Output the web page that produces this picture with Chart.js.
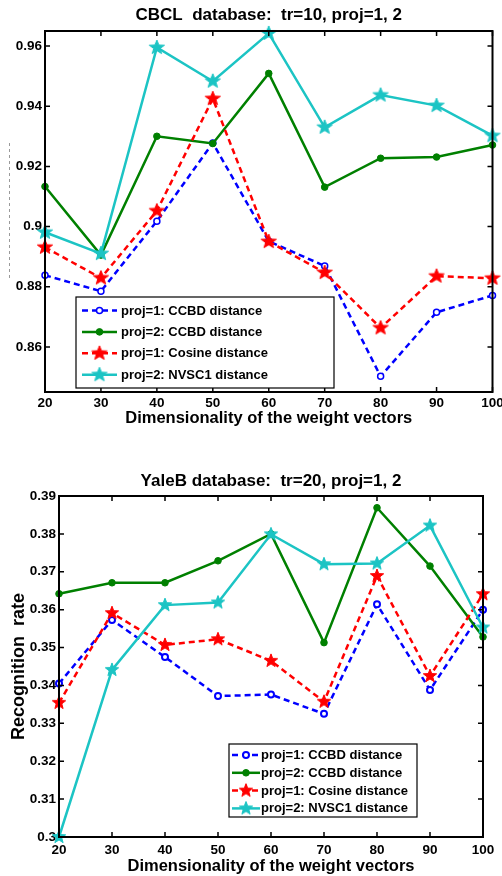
<!DOCTYPE html>
<html>
<head>
<meta charset="utf-8">
<script src="https://cdn.jsdelivr.net/npm/chart.js@4.4.1/dist/chart.umd.min.js"></script>
<style>
  html, body { margin: 0; padding: 0; background: #fff; }
  #wrap { position: relative; width: 502px; height: 876px; overflow: hidden; }
  canvas { position: absolute; left: 0; }
  #cbcl { top: 0; }
  #yale { top: 440px; }
</style>
</head>
<body>
<div id="wrap">
  <canvas id="cbcl" width="502" height="440"></canvas>
  <canvas id="yale" width="502" height="436"></canvas>
</div>
<script>
// ----------- DATA ------------
const dims = [20, 30, 40, 50, 60, 70, 80, 90, 100];
const seriesNames = [
  "proj=1: CCBD distance",
  "proj=2: CCBD distance",
  "proj=1: Cosine distance",
  "proj=2: NVSC1 distance",
];

// CBCL, tr=10
const cbclCcbd1 = [0.8838, 0.8785, 0.9018, 0.9278, 0.8951, 0.8869, 0.8502, 0.8715, 0.8771];
const cbclCcbd2 = [0.9133, 0.8905, 0.93, 0.9276, 0.9509, 0.9131, 0.9227, 0.9231, 0.9271];
const cbclCos1 = [0.8931, 0.8829, 0.9052, 0.9425, 0.895, 0.8847, 0.8663, 0.8835, 0.8828];
const cbclNvsc2 = [0.8981, 0.891, 0.9595, 0.9483, 0.9642, 0.933, 0.9437, 0.9402, 0.9302];

// YaleB, tr=20
const yaleCcbd1 = [0.3405, 0.3573, 0.3475, 0.3372, 0.3376, 0.3325, 0.3614, 0.3388, 0.36];
const yaleCcbd2 = [0.3642, 0.3671, 0.3671, 0.3729, 0.38, 0.3513, 0.3869, 0.3715, 0.3528];
const yaleCos1 = [0.3354, 0.3591, 0.3507, 0.3522, 0.3465, 0.3357, 0.3689, 0.3425, 0.3641];
const yaleNvsc2 = [0.3, 0.3441, 0.3612, 0.3619, 0.3799, 0.372, 0.3722, 0.3822, 0.3553];

const xTicks = [20, 30, 40, 50, 60, 70, 80, 90, 100];
const cbclYTicks = [0.86, 0.88, 0.9, 0.92, 0.94, 0.96];
const yaleYTicks = [0.3, 0.31, 0.32, 0.33, 0.34, 0.35, 0.36, 0.37, 0.38, 0.39];

// ----------- STYLE ------------
const FONT = "'Liberation Sans', Arial, Helvetica, sans-serif";
const BLUE = "#0000ff";
const GREEN = "#008000";
const RED = "#ff0000";
const CYAN = "#1cc4c4";

Chart.defaults.font.family = FONT;
Chart.defaults.color = "#000";

// filled 5-point star like matlab's pentagram marker
function makeStar(color, rx, ry) {
  const c = document.createElement("canvas");
  c.width = Math.ceil(rx * 2 + 2);
  c.height = Math.ceil(ry * 2 + 2);
  const g = c.getContext("2d");
  const cx = c.width / 2;
  const cy = c.height / 2;
  g.beginPath();
  for (let i = 0; i < 10; i++) {
    const r = i % 2 === 0 ? 1 : 0.42;
    const a = -Math.PI / 2 + (i * Math.PI) / 5;
    const px = cx + Math.cos(a) * r * rx;
    const py = cy + Math.sin(a) * r * ry;
    if (i === 0) g.moveTo(px, py);
    else g.lineTo(px, py);
  }
  g.closePath();
  g.fillStyle = color;
  g.fill();
  g.strokeStyle = color;
  g.lineWidth = 1;
  g.stroke();
  return c;
}

function lineSet(label, values, style) {
  return Object.assign(
    {
      label: label,
      data: dims.map((d, i) => ({ x: d, y: values[i] })),
      fill: false,
      tension: 0,
      clip: false,
      borderWidth: 2.5,
    },
    style
  );
}

function fmt(v) {
  return String(Number(v.toFixed(3)));
}

// box + inward ticks, matlab style
const framePlugin = {
  id: "frame",
  afterDatasetsDraw(chart, args, opts) {
    const { ctx, chartArea: a } = chart;
    const x = chart.scales.x;
    const y = chart.scales.y;
    ctx.save();
    ctx.strokeStyle = "#000";
    ctx.lineWidth = 1.5;
    ctx.beginPath();
    x.ticks.forEach((t) => {
      const px = x.getPixelForValue(t.value);
      ctx.moveTo(px, a.bottom);
      ctx.lineTo(px, a.bottom - 5);
      ctx.moveTo(px, a.top);
      ctx.lineTo(px, a.top + 5);
    });
    y.ticks.forEach((t) => {
      const py = y.getPixelForValue(t.value);
      ctx.moveTo(a.left, py);
      ctx.lineTo(a.left + 5, py);
      ctx.moveTo(a.right, py);
      ctx.lineTo(a.right - 5, py);
    });
    ctx.stroke();
    ctx.lineWidth = 2;
    ctx.strokeRect(a.left, a.top, a.right - a.left, a.bottom - a.top);

    // leftover dotted guide at the left of the first figure
    if (opts.ghost) {
      ctx.strokeStyle = "#9a9a9a";
      ctx.lineWidth = 1;
      ctx.setLineDash([3, 3]);
      ctx.beginPath();
      ctx.moveTo(opts.ghost.x, opts.ghost.y0);
      ctx.lineTo(opts.ghost.x, opts.ghost.y1);
      ctx.stroke();
    }
    ctx.restore();
  },
};

// legend box drawn inside the axes
const boxLegend = {
  id: "boxLegend",
  afterDraw(chart, args, o) {
    const ctx = chart.ctx;
    ctx.save();
    ctx.fillStyle = "#fff";
    ctx.fillRect(o.left, o.top, o.width, o.height);
    ctx.strokeStyle = "#000";
    ctx.lineWidth = 1.2;
    ctx.strokeRect(o.left, o.top, o.width, o.height);
    ctx.font = "bold 13px " + FONT;
    ctx.textBaseline = "middle";
    chart.data.datasets.forEach((ds, i) => {
      const ry = o.top + o.firstRow + i * o.rowGap;
      const x0 = o.left + o.sampleFrom;
      const x1 = o.left + o.sampleTo;
      ctx.strokeStyle = ds.borderColor;
      ctx.lineWidth = ds.borderWidth;
      ctx.setLineDash(ds.borderDash || []);
      ctx.beginPath();
      ctx.moveTo(x0, ry);
      ctx.lineTo(x1, ry);
      ctx.stroke();
      ctx.setLineDash([]);
      const mx = (x0 + x1) / 2;
      if (ds.pointStyle instanceof HTMLCanvasElement) {
        ctx.drawImage(ds.pointStyle, mx - ds.pointStyle.width / 2, ry - ds.pointStyle.height / 2);
      } else {
        ctx.beginPath();
        ctx.arc(mx, ry, ds.pointRadius, 0, Math.PI * 2);
        ctx.fillStyle = ds.pointBackgroundColor;
        ctx.fill();
        ctx.lineWidth = ds.pointBorderWidth;
        ctx.strokeStyle = ds.pointBorderColor;
        ctx.stroke();
      }
      ctx.fillStyle = "#000";
      ctx.fillText(ds.label, o.left + o.textX, ry + 0.5);
    });
    ctx.restore();
  },
};

function buildChart(canvasId, cfg) {
  const ctx = document.getElementById(canvasId).getContext("2d");
  return new Chart(ctx, {
    type: "line",
    data: { datasets: cfg.datasets },
    plugins: [framePlugin, boxLegend],
    options: {
      responsive: false,
      maintainAspectRatio: false,
      devicePixelRatio: 1,
      animation: false,
      events: [],
      layout: { padding: { left: 0, right: cfg.padRight, top: 0, bottom: 0 } },
      plugins: {
        legend: { display: false },
        tooltip: { enabled: false },
        title: {
          display: true,
          text: cfg.title,
          fullSize: false,
          color: "#000",
          font: { size: 17, weight: "bold" },
          padding: cfg.titlePad,
        },
        frame: { ghost: cfg.ghost },
        boxLegend: cfg.legend,
      },
      scales: {
        x: {
          type: "linear",
          min: 20,
          max: 100,
          afterBuildTicks: (axis) => {
            axis.ticks = xTicks.map((v) => ({ value: v }));
          },
          afterFit: (scale) => {
            scale.height = cfg.xHeight;
            scale.paddingLeft = 0;
            scale.paddingRight = 0;
          },
          grid: { display: false, drawTicks: false },
          border: { display: false },
          ticks: {
            padding: cfg.xTickPad,
            maxRotation: 0,
            autoSkip: false,
            color: "#000",
            font: { size: 13.5, weight: "bold" },
          },
          title: {
            display: true,
            text: "Dimensionality of the weight vectors",
            color: "#000",
            font: { size: 16.5, weight: "bold" },
            padding: { top: 0, bottom: cfg.xTitlePad },
          },
        },
        y: {
          type: "linear",
          min: cfg.yMin,
          max: cfg.yMax,
          afterBuildTicks: (axis) => {
            axis.ticks = cfg.yTicks.map((v) => ({ value: v }));
          },
          afterFit: (scale) => {
            scale.width = cfg.yWidth;
            scale.paddingTop = 0;
            scale.paddingBottom = 0;
          },
          grid: { display: false, drawTicks: false },
          border: { display: false },
          ticks: {
            padding: 3,
            autoSkip: false,
            color: "#000",
            font: { size: 13.5, weight: "bold" },
            callback: (v) => fmt(v),
          },
          title: {
            display: !!cfg.yTitle,
            text: cfg.yTitle || "",
            color: "#000",
            font: { size: 18, weight: "bold" },
            padding: { top: 8, bottom: 0 },
          },
        },
      },
    },
  });
}

// ----------- CBCL ------------
const starRedTop = makeStar(RED, 8, 7.5);
const starCyanTop = makeStar(CYAN, 8, 7.5);

buildChart("cbcl", {
  title: "CBCL  database:  tr=10, proj=1, 2",
  titlePad: { top: 4.8, bottom: 5.8 },
  padRight: 9,
  xHeight: 48,
  xTickPad: 3.5,
  xTitlePad: 12,
  yWidth: 45,
  yMin: 0.845,
  yMax: 0.965,
  yTicks: cbclYTicks,
  ghost: { x: 9.5, y0: 143, y1: 281 },
  legend: { left: 76, top: 297, width: 258, height: 91, firstRow: 13.5, rowGap: 21.4, sampleFrom: 6, sampleTo: 41, textX: 45 },
  datasets: [
    lineSet(seriesNames[0], cbclCcbd1, {
      borderColor: BLUE, borderDash: [6, 4], pointStyle: "circle", pointRadius: 3,
      pointBorderWidth: 1.5, pointBackgroundColor: "#fff", pointBorderColor: BLUE, order: 3,
    }),
    lineSet(seriesNames[1], cbclCcbd2, {
      borderColor: GREEN, pointStyle: "circle", pointRadius: 3.3,
      pointBorderWidth: 1, pointBackgroundColor: GREEN, pointBorderColor: GREEN, order: 2,
    }),
    lineSet(seriesNames[2], cbclCos1, {
      borderColor: RED, borderDash: [6, 4], pointStyle: starRedTop, pointRadius: 7, order: 1,
    }),
    lineSet(seriesNames[3], cbclNvsc2, {
      borderColor: CYAN, pointStyle: starCyanTop, pointRadius: 7, order: 0,
    }),
  ],
});

// ----------- YALE B ------------
const starRedBot = makeStar(RED, 7, 7);
const starCyanBot = makeStar(CYAN, 7, 7);

buildChart("yale", {
  title: "YaleB database:  tr=20, proj=1, 2",
  titlePad: { top: 30.8, bottom: 4.8 },
  padRight: 19,
  xHeight: 39,
  xTickPad: 5.5,
  xTitlePad: 0,
  yWidth: 59,
  yMin: 0.3,
  yMax: 0.39,
  yTicks: yaleYTicks,
  yTitle: "Recognition  rate",
  legend: { left: 229, top: 304, width: 188, height: 73, firstRow: 11, rowGap: 17.8, sampleFrom: 3, sampleTo: 31, textX: 32 },
  datasets: [
    lineSet(seriesNames[0], yaleCcbd1, {
      borderColor: BLUE, borderDash: [6, 4], pointStyle: "circle", pointRadius: 3,
      pointBorderWidth: 2, pointBackgroundColor: "#fff", pointBorderColor: BLUE, order: 3,
    }),
    lineSet(seriesNames[1], yaleCcbd2, {
      borderColor: GREEN, pointStyle: "circle", pointRadius: 3.3,
      pointBorderWidth: 1, pointBackgroundColor: GREEN, pointBorderColor: GREEN, order: 2,
    }),
    lineSet(seriesNames[2], yaleCos1, {
      borderColor: RED, borderDash: [6, 4], pointStyle: starRedBot, pointRadius: 7, order: 1,
    }),
    lineSet(seriesNames[3], yaleNvsc2, {
      borderColor: CYAN, pointStyle: starCyanBot, pointRadius: 7, order: 0,
    }),
  ],
});
</script>
</body>
</html>
